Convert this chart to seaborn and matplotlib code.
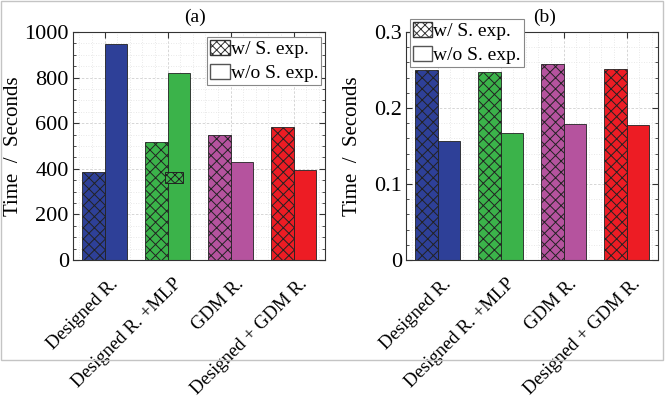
import matplotlib
matplotlib.use("Agg")
import matplotlib.pyplot as plt
import matplotlib.patches as mpatches
from matplotlib.ticker import MultipleLocator
from matplotlib.transforms import ScaledTranslation
import seaborn as sns
import pandas as pd

# datos
metodos = ['Designed R.', 'Designed R. +MLP', 'GDM R.', 'Designed + GDM R.']
ajustes = ['w/ S. exp.', 'w/o S. exp.']
tiempo_a_con = [387, 519, 547, 582]
tiempo_a_sin = [946, 822, 428, 393]
tiempo_b_con = [0.2506, 0.247, 0.2575, 0.2514]
tiempo_b_sin = [0.156, 0.1665, 0.1796, 0.178]
colores = ['#2E4098', '#3BB34A', '#B5539E', '#ED1C24']

plt.rcParams['font.family'] = ['Liberation Serif', 'DejaVu Serif']
plt.rcParams['hatch.linewidth'] = 0.7


def tabla(con, sin):
    return pd.DataFrame({
        'metodo': metodos * 2,
        'tiempo': con + sin,
        'ajuste': [ajustes[0]] * len(con) + [ajustes[1]] * len(sin),
    })


fig = plt.figure(figsize=(6.65, 3.99), dpi=100)
ax_a = fig.add_axes([73 / 665, 1 - 260 / 399, 252 / 665, 228 / 399])
ax_b = fig.add_axes([406 / 665, 1 - 260 / 399, 252 / 665, 228 / 399])

# marco gris alrededor de la figura
fig.patches.append(mpatches.Rectangle((0.5 / 665, 1 - 360 / 399), 662 / 665, 359 / 399,
                                      transform=fig.transFigure, fill=False,
                                      edgecolor='#c4c4c4', linewidth=1.0))

paneles = [
    (ax_a, tabla(tiempo_a_con, tiempo_a_sin), '(a)', 0.484, -0.20, 1000, 200, 50),
    (ax_b, tabla(tiempo_b_con, tiempo_b_sin), '(b)', 0.55, -0.175, 0.3, 0.1, 0.02),
]

desplaza = ScaledTranslation(11 / 100, -21 / 100, fig.dpi_scale_trans)

for ax, df, titulo, xt, xlab, ymax, paso, paso_menor in paneles:
    sns.barplot(data=df, x='metodo', y='tiempo', hue='ajuste', ax=ax,
                width=0.7, saturation=1, legend=False, errorbar=None)
    for k, cont in enumerate(ax.containers):
        for i, barra in enumerate(cont):
            barra.set_facecolor(colores[i])
            barra.set_edgecolor('#222222')
            barra.set_linewidth(0.6)
            if k == 0:
                barra.set_hatch('xxx')
    ax.set_xlim(-0.5, 3.5)
    ax.set_ylim(0, ymax)
    ax.yaxis.set_major_locator(MultipleLocator(paso))
    ax.yaxis.set_minor_locator(MultipleLocator(paso_menor))
    ax.xaxis.set_minor_locator(MultipleLocator(0.2))
    ax.set_axisbelow(True)
    ax.grid(which='major', color='#d0d0d0', linestyle=(0, (3, 2)), linewidth=0.6)
    ax.grid(which='minor', color='#e2e2e2', linestyle=(0, (1, 2)), linewidth=0.6)
    ax.tick_params(which='both', direction='in', top=True, right=True,
                   color='#333333', labelsize=16, pad=3)
    ax.tick_params(which='major', length=4)
    ax.tick_params(which='minor', length=2)
    ax.tick_params(axis='x', which='minor', length=0)
    # etiquetas del eje x giradas, colocadas a mano bajo cada grupo
    ax.set_xticks(range(len(metodos)))
    ax.set_xticklabels([])
    for i, m in enumerate(metodos):
        ax.text(i, 0, m, transform=ax.get_xaxis_transform() + desplaza,
                rotation=45, ha='right', va='center', rotation_mode='anchor',
                fontsize=13.5)
    for sp in ax.spines.values():
        sp.set_color('#333333')
        sp.set_linewidth(0.8)
    ax.set_xlabel('')
    ax.set_ylabel('Time  /  Seconds', fontsize=15)
    ax.yaxis.set_label_coords(xlab, 0.5)
    ax.set_title(titulo, fontsize=14, pad=7, x=xt)
    ax.yaxis.set_major_formatter(plt.FuncFormatter(lambda v, p: f'{v:g}'))

# leyendas
manejadores = [
    mpatches.Patch(facecolor='white', edgecolor='#333333', hatch='xxxx', label=ajustes[0]),
    mpatches.Patch(facecolor='white', edgecolor='#555555', label=ajustes[1]),
]
for ax, loc, ancla in [(ax_a, 'upper right', (321 / 665, 1 - 37 / 399)),
                       (ax_b, 'upper left', (410 / 665, 1 - 19 / 399))]:
    leg = ax.legend(handles=manejadores, loc=loc, bbox_to_anchor=ancla,
                    bbox_transform=fig.transFigure, fontsize=14, frameon=True,
                    fancybox=False, edgecolor='#888888', framealpha=1,
                    handlelength=1.0, handleheight=0.8, handletextpad=0.05,
                    borderpad=0.15, borderaxespad=0, labelspacing=0.3)
    leg.get_frame().set_linewidth(0.8)

# pequeño recuadro suelto de la leyenda en el panel (a)
ax_a.add_patch(mpatches.Rectangle((92 / 252, 77 / 228), 18 / 252, 11 / 228,
                                  transform=ax_a.transAxes, facecolor=colores[1],
                                  edgecolor='#222222', hatch='xxxx', linewidth=0.7,
                                  zorder=5))

fig.savefig('out.png', dpi=100)
